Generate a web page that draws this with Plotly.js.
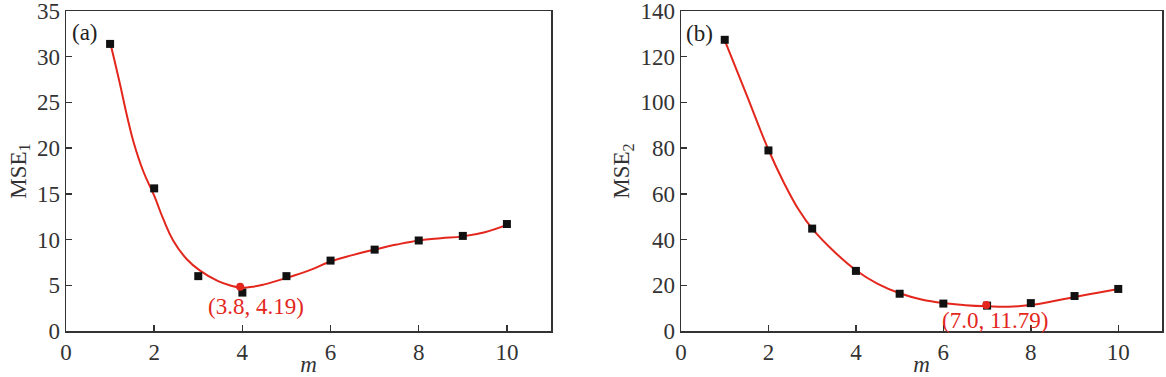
<!DOCTYPE html>
<html>
<head>
<meta charset="utf-8">
<script src="https://cdn.plot.ly/plotly-3.0.1.min.js"></script>
<style>
html,body{margin:0;padding:0;background:#fff;}
#chart{width:1166px;height:377px;}
</style>
</head>
<body>
<div id="chart"></div>
<script>
// ---- data ----
const mValues = [1, 2, 3, 4, 5, 6, 7, 8, 9, 10];
const mseA = [31.4, 15.6, 6.0, 4.2, 6.0, 7.7, 8.9, 9.9, 10.4, 11.7];
const mseB = [127.4, 79.0, 44.8, 26.3, 16.3, 12.0, 11.1, 12.2, 15.3, 18.4];

const fitAx = [1.02, 1.22, 1.38, 1.53, 1.75, 2.0, 2.21, 2.43, 2.74, 3.04, 3.45, 3.75, 3.95, 4.25, 4.5, 5.0, 5.5, 6.0, 6.5, 7.0, 7.5, 8.0, 8.5, 9.0, 9.5, 10.0];
const fitAy = [31.2, 27.1, 23.6, 20.7, 17.5, 14.8, 12.2, 9.9, 7.85, 6.6, 5.45, 4.95, 4.75, 4.85, 5.1, 5.8, 6.6, 7.6, 8.3, 8.9, 9.45, 9.9, 10.15, 10.35, 10.8, 11.6];

const fitBx = [1, 1.5, 2, 2.35, 2.7, 3, 3.5, 4, 4.5, 5, 5.5, 6, 6.5, 7, 7.5, 8, 8.5, 9, 9.5, 10];
const fitBy = [127.2, 103.3, 79.3, 65.0, 52.8, 44.8, 34.8, 26.6, 20.6, 16.5, 13.8, 12.2, 11.3, 10.8, 10.6, 11.4, 13.0, 14.9, 16.6, 18.4];

const optAx = [3.95], optAy = [4.85];
const optBx = [6.98], optBy = [11.4];
const optAlabel = '(3.8, 4.19)';
const optBlabel = '(7.0, 11.79)';
const panelLabels = ['(a)', '(b)'];
const yTitles = ['MSE<sub>1</sub>', 'MSE<sub>2</sub>'];
const xTitle = '<i>m</i>';

// ---- styles ----
const FONT = 'Liberation Serif';
const FS = 23;
const RED = '#e3271d';
const AXC = '#333333';

const traces = [
  {x: fitAx, y: fitAy, xaxis: 'x', yaxis: 'y', mode: 'lines', line: {color: RED, width: 2, shape: 'spline', smoothing: 1.2}},
  {x: mValues, y: mseA, xaxis: 'x', yaxis: 'y', mode: 'markers', marker: {symbol: 'square', size: 8, color: '#111'}},
  {x: optAx, y: optAy, xaxis: 'x', yaxis: 'y', mode: 'markers', marker: {symbol: 'circle', size: 8, color: RED}},
  {x: fitBx, y: fitBy, xaxis: 'x2', yaxis: 'y2', mode: 'lines', line: {color: RED, width: 2, shape: 'spline', smoothing: 1.2}},
  {x: mValues, y: mseB, xaxis: 'x2', yaxis: 'y2', mode: 'markers', marker: {symbol: 'square', size: 8, color: '#111'}},
  {x: optBx, y: optBy, xaxis: 'x2', yaxis: 'y2', mode: 'markers', marker: {symbol: 'circle', size: 8, color: RED}}
];

function xa(domain, anchor) {
  return {
    domain: domain, anchor: anchor, range: [0, 11], tickmode: 'array', tickvals: [0, 2, 4, 6, 8, 10],
    ticks: 'inside', ticklen: 6, tickwidth: 1.5, tickcolor: AXC,
    showline: true, linecolor: AXC, linewidth: 1.5, mirror: true,
    showgrid: false, zeroline: false, ticklabeloverflow: 'allow',
    tickfont: {family: FONT, size: FS, color: AXC},
    title: {text: xTitle, font: {family: FONT, size: FS, color: AXC}, standoff: 0}
  };
}
function ya(domain, anchor, range, dtick, title) {
  return {
    domain: domain, anchor: anchor, range: range, dtick: dtick, tick0: 0,
    ticks: 'inside', ticklen: 6, tickwidth: 1.5, tickcolor: AXC,
    showline: true, linecolor: AXC, linewidth: 1.5, mirror: true,
    showgrid: false, zeroline: false, ticklabeloverflow: 'allow',
    tickfont: {family: FONT, size: FS, color: AXC},
    title: {text: title, font: {family: FONT, size: FS, color: AXC}, standoff: 4}
  };
}

const layout = {
  width: 1166, height: 377,
  margin: {l: 0, r: 0, t: 11, b: 46},
  paper_bgcolor: '#fff', plot_bgcolor: '#fff',
  showlegend: false,
  xaxis: xa([66/1166, 551/1166], 'y'),
  yaxis: ya([0, 1], 'x', [0, 35], 5, yTitles[0]),
  xaxis2: xa([681/1166, 1162/1166], 'y2'),
  yaxis2: ya([0, 1], 'x2', [0, 140], 20, yTitles[1]),
  annotations: [
    {xref: 'x', yref: 'y', x: 0.44, y: 32.6, text: panelLabels[0], showarrow: false, font: {family: FONT, size: FS, color: '#222'}},
    {xref: 'x2', yref: 'y2', x: 0.43, y: 130.3, text: panelLabels[1], showarrow: false, font: {family: FONT, size: FS, color: '#222'}},
    {xref: 'x', yref: 'y', x: 4.31, y: 2.7, text: optAlabel, showarrow: false, font: {family: FONT, size: FS, color: RED}},
    {xref: 'x2', yref: 'y2', x: 7.19, y: 4.75, text: optBlabel, showarrow: false, font: {family: FONT, size: FS, color: RED}}
  ]
};

Plotly.newPlot('chart', traces, layout, {staticPlot: true, displayModeBar: false});
</script>
</body>
</html>
